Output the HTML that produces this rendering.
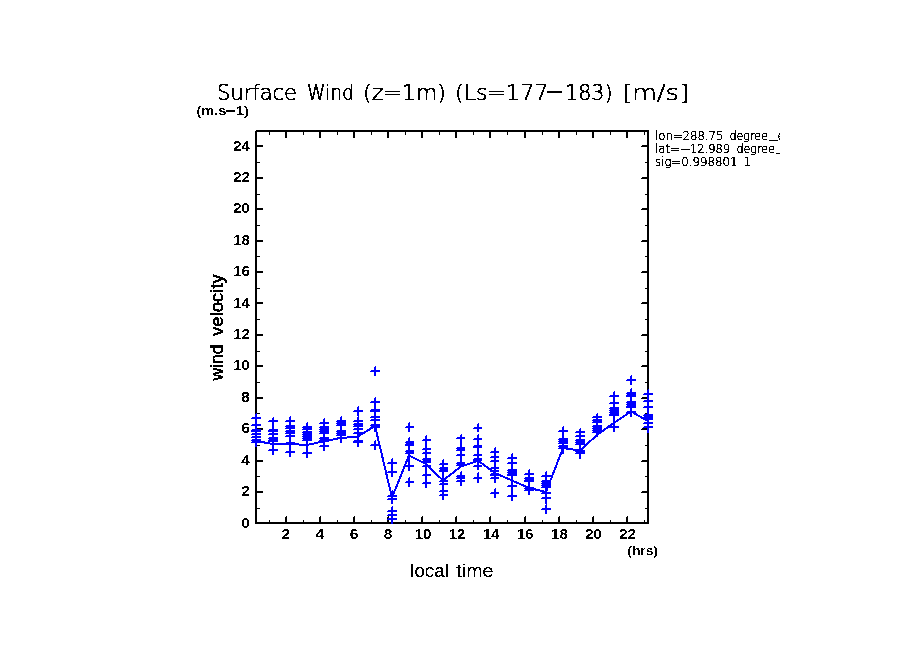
<!DOCTYPE html>
<html><head><meta charset="utf-8"><title>Surface Wind</title>
<style>
html,body{margin:0;padding:0;background:#fff;}
body{width:904px;height:654px;overflow:hidden;}
svg{display:block;}
text{font-family:"Liberation Sans",Arial,sans-serif;fill:#000;}
</style></head><body>
<svg width="904" height="654" viewBox="0 0 904 654">
<defs><clipPath id="clipR"><rect x="650" y="120" width="130" height="60"/></clipPath>
<filter id="bin" filterUnits="userSpaceOnUse" x="0" y="0" width="904" height="654" color-interpolation-filters="sRGB"><feComponentTransfer><feFuncA type="discrete" tableValues="0 1"/></feComponentTransfer></filter></defs>
<rect width="904" height="654" fill="#fff"/>
<rect x="256" y="130" width="393" height="2" fill="#000"/>
<rect x="255" y="522" width="394" height="2" fill="#000"/>
<rect x="255" y="131" width="2" height="393" fill="#000"/>
<rect x="647" y="130" width="2" height="394" fill="#000"/>
<rect x="257" y="508" width="3" height="1" fill="#000"/>
<rect x="645" y="508" width="2" height="1" fill="#000"/>
<rect x="257" y="491" width="6" height="2" fill="#000"/>
<rect x="642" y="491" width="5" height="1" fill="#000"/>
<rect x="641" y="492" width="6" height="1" fill="#000"/>
<rect x="257" y="476" width="3" height="1" fill="#000"/>
<rect x="645" y="476" width="2" height="1" fill="#000"/>
<rect x="257" y="460" width="6" height="2" fill="#000"/>
<rect x="642" y="460" width="5" height="1" fill="#000"/>
<rect x="641" y="461" width="6" height="1" fill="#000"/>
<rect x="257" y="445" width="3" height="1" fill="#000"/>
<rect x="645" y="445" width="2" height="1" fill="#000"/>
<rect x="257" y="428" width="6" height="2" fill="#000"/>
<rect x="642" y="428" width="5" height="1" fill="#000"/>
<rect x="641" y="429" width="6" height="1" fill="#000"/>
<rect x="257" y="413" width="3" height="1" fill="#000"/>
<rect x="645" y="413" width="2" height="1" fill="#000"/>
<rect x="257" y="397" width="6" height="2" fill="#000"/>
<rect x="642" y="397" width="5" height="1" fill="#000"/>
<rect x="641" y="398" width="6" height="1" fill="#000"/>
<rect x="257" y="382" width="3" height="1" fill="#000"/>
<rect x="645" y="382" width="2" height="1" fill="#000"/>
<rect x="257" y="365" width="6" height="2" fill="#000"/>
<rect x="642" y="365" width="5" height="1" fill="#000"/>
<rect x="641" y="366" width="6" height="1" fill="#000"/>
<rect x="257" y="351" width="3" height="1" fill="#000"/>
<rect x="645" y="351" width="2" height="1" fill="#000"/>
<rect x="257" y="334" width="6" height="2" fill="#000"/>
<rect x="642" y="334" width="5" height="1" fill="#000"/>
<rect x="641" y="335" width="6" height="1" fill="#000"/>
<rect x="257" y="319" width="3" height="1" fill="#000"/>
<rect x="645" y="319" width="2" height="1" fill="#000"/>
<rect x="257" y="302" width="6" height="2" fill="#000"/>
<rect x="642" y="302" width="5" height="1" fill="#000"/>
<rect x="641" y="303" width="6" height="1" fill="#000"/>
<rect x="257" y="288" width="3" height="1" fill="#000"/>
<rect x="645" y="288" width="2" height="1" fill="#000"/>
<rect x="257" y="271" width="6" height="2" fill="#000"/>
<rect x="642" y="271" width="5" height="1" fill="#000"/>
<rect x="641" y="272" width="6" height="1" fill="#000"/>
<rect x="257" y="256" width="3" height="1" fill="#000"/>
<rect x="645" y="256" width="2" height="1" fill="#000"/>
<rect x="257" y="240" width="6" height="2" fill="#000"/>
<rect x="642" y="240" width="5" height="1" fill="#000"/>
<rect x="641" y="241" width="6" height="1" fill="#000"/>
<rect x="257" y="225" width="3" height="1" fill="#000"/>
<rect x="645" y="225" width="2" height="1" fill="#000"/>
<rect x="257" y="208" width="6" height="2" fill="#000"/>
<rect x="642" y="208" width="5" height="1" fill="#000"/>
<rect x="641" y="209" width="6" height="1" fill="#000"/>
<rect x="257" y="194" width="3" height="1" fill="#000"/>
<rect x="645" y="194" width="2" height="1" fill="#000"/>
<rect x="257" y="177" width="6" height="2" fill="#000"/>
<rect x="642" y="177" width="5" height="1" fill="#000"/>
<rect x="641" y="178" width="6" height="1" fill="#000"/>
<rect x="257" y="162" width="3" height="1" fill="#000"/>
<rect x="645" y="162" width="2" height="1" fill="#000"/>
<rect x="257" y="145" width="6" height="2" fill="#000"/>
<rect x="642" y="145" width="5" height="1" fill="#000"/>
<rect x="641" y="146" width="6" height="1" fill="#000"/>
<rect x="257" y="131" width="3" height="1" fill="#000"/>
<rect x="645" y="131" width="2" height="1" fill="#000"/>
<rect x="269" y="520" width="1" height="2" fill="#000"/>
<rect x="269" y="132" width="1" height="3" fill="#000"/>
<rect x="286" y="516" width="1" height="1" fill="#000"/>
<rect x="285" y="517" width="2" height="5" fill="#000"/>
<rect x="285" y="132" width="2" height="6" fill="#000"/>
<rect x="303" y="520" width="1" height="2" fill="#000"/>
<rect x="303" y="132" width="1" height="3" fill="#000"/>
<rect x="320" y="516" width="1" height="1" fill="#000"/>
<rect x="319" y="517" width="2" height="5" fill="#000"/>
<rect x="319" y="132" width="2" height="6" fill="#000"/>
<rect x="337" y="520" width="1" height="2" fill="#000"/>
<rect x="337" y="132" width="1" height="3" fill="#000"/>
<rect x="354" y="516" width="1" height="1" fill="#000"/>
<rect x="353" y="517" width="2" height="5" fill="#000"/>
<rect x="353" y="132" width="2" height="6" fill="#000"/>
<rect x="371" y="520" width="1" height="2" fill="#000"/>
<rect x="371" y="132" width="1" height="3" fill="#000"/>
<rect x="388" y="516" width="1" height="1" fill="#000"/>
<rect x="387" y="517" width="2" height="5" fill="#000"/>
<rect x="387" y="132" width="2" height="6" fill="#000"/>
<rect x="405" y="520" width="1" height="2" fill="#000"/>
<rect x="405" y="132" width="1" height="3" fill="#000"/>
<rect x="422" y="516" width="1" height="1" fill="#000"/>
<rect x="421" y="517" width="2" height="5" fill="#000"/>
<rect x="421" y="132" width="2" height="6" fill="#000"/>
<rect x="439" y="520" width="1" height="2" fill="#000"/>
<rect x="439" y="132" width="1" height="3" fill="#000"/>
<rect x="456" y="516" width="1" height="1" fill="#000"/>
<rect x="455" y="517" width="2" height="5" fill="#000"/>
<rect x="455" y="132" width="2" height="6" fill="#000"/>
<rect x="473" y="520" width="1" height="2" fill="#000"/>
<rect x="473" y="132" width="1" height="3" fill="#000"/>
<rect x="490" y="516" width="1" height="1" fill="#000"/>
<rect x="489" y="517" width="2" height="5" fill="#000"/>
<rect x="489" y="132" width="2" height="6" fill="#000"/>
<rect x="507" y="520" width="1" height="2" fill="#000"/>
<rect x="507" y="132" width="1" height="3" fill="#000"/>
<rect x="525" y="516" width="1" height="1" fill="#000"/>
<rect x="524" y="517" width="2" height="5" fill="#000"/>
<rect x="524" y="132" width="2" height="6" fill="#000"/>
<rect x="542" y="520" width="1" height="2" fill="#000"/>
<rect x="542" y="132" width="1" height="3" fill="#000"/>
<rect x="559" y="516" width="1" height="1" fill="#000"/>
<rect x="558" y="517" width="2" height="5" fill="#000"/>
<rect x="558" y="132" width="2" height="6" fill="#000"/>
<rect x="576" y="520" width="1" height="2" fill="#000"/>
<rect x="576" y="132" width="1" height="3" fill="#000"/>
<rect x="593" y="516" width="1" height="1" fill="#000"/>
<rect x="592" y="517" width="2" height="5" fill="#000"/>
<rect x="592" y="132" width="2" height="6" fill="#000"/>
<rect x="610" y="520" width="1" height="2" fill="#000"/>
<rect x="610" y="132" width="1" height="3" fill="#000"/>
<rect x="627" y="516" width="1" height="1" fill="#000"/>
<rect x="626" y="517" width="2" height="5" fill="#000"/>
<rect x="626" y="132" width="2" height="6" fill="#000"/>
<rect x="644" y="520" width="1" height="2" fill="#000"/>
<rect x="644" y="132" width="1" height="3" fill="#000"/>
<path d="M256 413h1v34h-2v-33h1zM252 417h9v2h-10v-1h1zM252 424h9v2h-10v-1h1zM252 429h9v3h-10v-2h1zM252 433h9v2h-10v-1h1zM252 436h9v2h-10v-1h1zM252 439h9v4h-10v-3h1zM273 417h1v38h-2v-37h1zM269 420h9v2h-10v-1h1zM269 429h9v3h-10v-2h1zM269 433h9v2h-10v-1h1zM269 437h9v5h-10v-4h1zM269 449h9v2h-10v-1h1zM290 416h1v41h-2v-40h1zM286 420h9v2h-10v-1h1zM286 425h9v4h-10v-3h1zM286 430h9v4h-10v-3h1zM286 435h9v2h-10v-1h1zM286 442h9v2h-10v-1h1zM286 451h9v2h-10v-1h1zM307 422h1v36h-2v-35h1zM303 426h9v4h-10v-3h1zM303 431h9v10h-10v-9h1zM303 452h9v2h-10v-1h1zM324 418h1v33h-2v-32h1zM320 422h9v2h-10v-1h1zM320 426h9v8h-10v-7h1zM320 437h9v5h-10v-4h1zM320 445h9v2h-10v-1h1zM341 416h1v27h-2v-26h1zM337 420h9v6h-10v-5h1zM337 430h9v6h-10v-5h1zM337 437h9v2h-10v-1h1zM358 406h1v10h-2v-9h1zM358 416h1v31h-2v-30h1zM354 410h9v2h-10v-1h1zM354 420h9v2h-10v-1h1zM354 423h9v4h-10v-3h1zM354 428h9v2h-10v-1h1zM354 432h9v2h-10v-1h1zM354 440h9v3h-10v-2h1zM375 366h1v10h-2v-9h1zM375 397h1v35h-2v-34h1zM375 440h1v10h-2v-9h1zM371 370h9v2h-10v-1h1zM371 401h9v2h-10v-1h1zM371 409h9v3h-10v-2h1zM371 416h9v2h-10v-1h1zM371 419h9v2h-10v-1h1zM371 424h9v4h-10v-3h1zM371 444h9v2h-10v-1h1zM392 458h1v19h-2v-18h1zM392 490h1v14h-2v-13h1zM392 506h1v18h-2v-17h1zM388 462h9v2h-10v-1h1zM388 471h9v2h-10v-1h1zM388 495h9v2h-10v-1h1zM388 498h9v2h-10v-1h1zM388 510h9v2h-10v-1h1zM388 514h9v2h-10v-1h1zM388 518h9v2h-10v-1h1zM409 422h1v10h-2v-9h1zM409 437h1v34h-2v-33h1zM409 477h1v10h-2v-9h1zM406 426h8v2h-9v-1h1zM406 441h8v5h-9v-4h1zM406 450h8v4h-9v-3h1zM406 465h8v2h-9v-1h1zM406 481h8v2h-9v-1h1zM426 435h1v53h-2v-52h1zM423 439h8v2h-9v-1h1zM423 448h8v2h-9v-1h1zM423 452h8v2h-9v-1h1zM423 458h8v5h-9v-4h1zM423 465h8v2h-9v-1h1zM423 474h8v2h-9v-1h1zM423 482h8v2h-9v-1h1zM443 459h1v41h-2v-40h1zM440 463h8v2h-9v-1h1zM440 467h8v5h-9v-4h1zM440 480h8v2h-9v-1h1zM440 483h8v2h-9v-1h1zM440 490h8v2h-9v-1h1zM440 494h8v2h-9v-1h1zM461 434h1v33h-2v-32h1zM461 471h1v15h-2v-14h1zM457 437h8v2h-9v-1h1zM457 447h8v4h-9v-3h1zM457 454h8v2h-9v-1h1zM457 462h8v4h-9v-3h1zM457 475h8v4h-9v-3h1zM457 480h8v2h-9v-1h1zM478 423h1v9h-2v-8h1zM478 434h1v36h-2v-35h1zM478 472h1v11h-2v-10h1zM474 427h8v2h-9v-1h1zM474 438h8v2h-9v-1h1zM474 445h8v3h-9v-2h1zM474 454h8v2h-9v-1h1zM474 458h8v3h-9v-2h1zM474 465h8v2h-9v-1h1zM474 477h8v2h-9v-1h1zM495 447h1v36h-2v-35h1zM495 488h1v10h-2v-9h1zM491 451h8v2h-9v-1h1zM491 456h8v2h-9v-1h1zM491 460h8v2h-9v-1h1zM491 467h8v2h-9v-1h1zM491 470h8v2h-9v-1h1zM491 473h8v3h-9v-2h1zM491 477h8v2h-9v-1h1zM491 492h8v2h-9v-1h1zM512 453h1v48h-2v-47h1zM508 457h9v2h-10v-1h1zM508 462h9v2h-10v-1h1zM508 469h9v7h-10v-6h1zM508 485h9v2h-10v-1h1zM508 495h9v2h-10v-1h1zM529 469h1v26h-2v-25h1zM525 473h9v2h-10v-1h1zM525 477h9v5h-10v-4h1zM525 487h9v4h-10v-3h1zM546 471h1v33h-2v-32h1zM546 504h1v10h-2v-9h1zM542 475h9v2h-10v-1h1zM542 480h9v8h-10v-7h1zM542 492h9v2h-10v-1h1zM542 497h9v2h-10v-1h1zM542 508h9v2h-10v-1h1zM563 426h1v28h-2v-27h1zM559 430h9v2h-10v-1h1zM559 438h9v6h-10v-5h1zM559 445h9v4h-10v-3h1zM580 428h1v31h-2v-30h1zM576 431h9v2h-10v-1h1zM576 435h9v2h-10v-1h1zM576 439h9v6h-10v-5h1zM576 450h9v4h-10v-3h1zM597 413h1v24h-2v-23h1zM593 416h9v2h-10v-1h1zM593 419h9v4h-10v-3h1zM593 425h9v8h-10v-7h1zM614 391h1v41h-2v-40h1zM610 395h9v2h-10v-1h1zM610 402h9v2h-10v-1h1zM610 407h9v9h-10v-8h1zM610 426h9v2h-10v-1h1zM631 375h1v10h-2v-9h1zM631 388h1v29h-2v-28h1zM627 379h9v2h-10v-1h1zM627 392h9v5h-10v-4h1zM627 401h9v7h-10v-6h1zM627 411h9v2h-10v-1h1zM648 389h1v44h-2v-43h1zM644 393h9v2h-10v-1h1zM644 400h9v2h-10v-1h1zM644 406h9v2h-10v-1h1zM644 414h9v6h-10v-5h1zM644 422h9v2h-10v-1h1zM644 426h9v2h-10v-1h1z" fill="#0000ff"/>
<path d="M251 441h1v1h-1zM268 439h1v1h-1zM285 427h1v1h-1zM285 432h1v1h-1zM302 428h1v1h-1zM302 433h1v1h-1zM302 435h1v1h-1zM302 437h1v1h-1zM302 439h1v1h-1zM319 428h1v1h-1zM319 430h1v1h-1zM319 432h1v1h-1zM319 439h1v1h-1zM336 422h1v1h-1zM336 424h1v1h-1zM336 432h1v1h-1zM336 434h1v1h-1zM353 425h1v1h-1zM370 426h1v1h-1zM405 443h1v1h-1zM405 452h1v1h-1zM422 460h1v1h-1zM439 469h1v1h-1zM456 449h1v1h-1zM456 464h1v1h-1zM456 477h1v1h-1zM507 471h1v1h-1zM507 473h1v1h-1zM524 479h1v1h-1zM524 489h1v1h-1zM541 482h1v1h-1zM541 484h1v1h-1zM541 486h1v1h-1zM558 440h1v1h-1zM558 442h1v1h-1zM558 447h1v1h-1zM575 441h1v1h-1zM575 443h1v1h-1zM575 452h1v1h-1zM592 421h1v1h-1zM592 427h1v1h-1zM592 429h1v1h-1zM592 431h1v1h-1zM609 409h1v1h-1zM609 411h1v1h-1zM609 413h1v1h-1zM626 394h1v1h-1zM626 403h1v1h-1zM626 405h1v1h-1zM643 416h1v1h-1zM643 418h1v1h-1z" fill="#fff"/>
<polyline points="256,441 273,444 290,444 307,445 324,441.2 341,438 358,436.5 375,426 392,497.5 409,455.5 426,464 443,480.5 461,466.5 478,460.7 495,473 512,480.5 529,488 546,492 563,448 580,450.5 597,435 614,422.7 631,411.5 648,421" fill="none" stroke="#0000ff" stroke-width="2" shape-rendering="crispEdges"/>
<g filter="url(#bin)">
<text y="99.5" font-size="22" style="font-family:'DejaVu Sans','Liberation Sans',sans-serif;font-weight:200;stroke:#000;stroke-width:0.6px"><tspan x="217" textLength="80" lengthAdjust="spacingAndGlyphs">Surface</tspan> <tspan x="307" textLength="47" lengthAdjust="spacingAndGlyphs">Wind</tspan> <tspan x="363" textLength="83" lengthAdjust="spacingAndGlyphs">(z=1m)</tspan> <tspan x="455" textLength="93.3" lengthAdjust="spacingAndGlyphs">(Ls=177</tspan><tspan x="544.8" textLength="19.3" lengthAdjust="spacingAndGlyphs" y="97.7" style="font-weight:400;stroke-width:0.3px">-</tspan><tspan x="565" textLength="47.5" lengthAdjust="spacingAndGlyphs" y="99.5">183)</tspan> <tspan x="622" textLength="67" lengthAdjust="spacingAndGlyphs" y="99.5">[m/s]</tspan></text>
<text y="115.3" font-size="13.5" font-weight="bold"><tspan x="196.4" textLength="30" lengthAdjust="spacingAndGlyphs">(m.s</tspan><tspan x="224.4" textLength="12.2" lengthAdjust="spacingAndGlyphs">-</tspan><tspan x="236" textLength="13" lengthAdjust="spacingAndGlyphs">1)</tspan></text>
<text x="249.9" y="527.5" font-size="14" font-weight="bold" text-anchor="end" textLength="8.6" lengthAdjust="spacingAndGlyphs">0</text>
<text x="249.9" y="496.08" font-size="14" font-weight="bold" text-anchor="end" textLength="8.6" lengthAdjust="spacingAndGlyphs">2</text>
<text x="249.9" y="464.67" font-size="14" font-weight="bold" text-anchor="end" textLength="8.6" lengthAdjust="spacingAndGlyphs">4</text>
<text x="249.9" y="433.25" font-size="14" font-weight="bold" text-anchor="end" textLength="8.6" lengthAdjust="spacingAndGlyphs">6</text>
<text x="249.9" y="401.84" font-size="14" font-weight="bold" text-anchor="end" textLength="8.6" lengthAdjust="spacingAndGlyphs">8</text>
<text x="249.9" y="370.42" font-size="14" font-weight="bold" text-anchor="end" textLength="16.6" lengthAdjust="spacingAndGlyphs">10</text>
<text x="249.9" y="339.0" font-size="14" font-weight="bold" text-anchor="end" textLength="16.6" lengthAdjust="spacingAndGlyphs">12</text>
<text x="249.9" y="307.59" font-size="14" font-weight="bold" text-anchor="end" textLength="16.6" lengthAdjust="spacingAndGlyphs">14</text>
<text x="249.9" y="276.17" font-size="14" font-weight="bold" text-anchor="end" textLength="16.6" lengthAdjust="spacingAndGlyphs">16</text>
<text x="249.9" y="244.76" font-size="14" font-weight="bold" text-anchor="end" textLength="16.6" lengthAdjust="spacingAndGlyphs">18</text>
<text x="249.9" y="213.34" font-size="14" font-weight="bold" text-anchor="end" textLength="16.6" lengthAdjust="spacingAndGlyphs">20</text>
<text x="249.9" y="181.92" font-size="14" font-weight="bold" text-anchor="end" textLength="16.6" lengthAdjust="spacingAndGlyphs">22</text>
<text x="249.9" y="150.51" font-size="14" font-weight="bold" text-anchor="end" textLength="16.6" lengthAdjust="spacingAndGlyphs">24</text>
<text x="285.8" y="539.2" font-size="14" font-weight="bold" text-anchor="middle" textLength="8.6" lengthAdjust="spacingAndGlyphs">2</text>
<text x="319.9" y="539.2" font-size="14" font-weight="bold" text-anchor="middle" textLength="8.6" lengthAdjust="spacingAndGlyphs">4</text>
<text x="354.0" y="539.2" font-size="14" font-weight="bold" text-anchor="middle" textLength="8.6" lengthAdjust="spacingAndGlyphs">6</text>
<text x="388.1" y="539.2" font-size="14" font-weight="bold" text-anchor="middle" textLength="8.6" lengthAdjust="spacingAndGlyphs">8</text>
<text x="423.0" y="539.2" font-size="14" font-weight="bold" text-anchor="middle" textLength="16.6" lengthAdjust="spacingAndGlyphs">10</text>
<text x="457.1" y="539.2" font-size="14" font-weight="bold" text-anchor="middle" textLength="16.6" lengthAdjust="spacingAndGlyphs">12</text>
<text x="491.2" y="539.2" font-size="14" font-weight="bold" text-anchor="middle" textLength="16.6" lengthAdjust="spacingAndGlyphs">14</text>
<text x="525.3" y="539.2" font-size="14" font-weight="bold" text-anchor="middle" textLength="16.6" lengthAdjust="spacingAndGlyphs">16</text>
<text x="559.4" y="539.2" font-size="14" font-weight="bold" text-anchor="middle" textLength="16.6" lengthAdjust="spacingAndGlyphs">18</text>
<text x="593.5" y="539.2" font-size="14" font-weight="bold" text-anchor="middle" textLength="16.6" lengthAdjust="spacingAndGlyphs">20</text>
<text x="627.6" y="539.2" font-size="14" font-weight="bold" text-anchor="middle" textLength="16.6" lengthAdjust="spacingAndGlyphs">22</text>
<text x="627.3" y="554.5" font-size="13.5" font-weight="bold" text-anchor="start" textLength="30.6" lengthAdjust="spacingAndGlyphs">(hrs)</text>
<text y="577" font-size="17.5" style="stroke:#000;stroke-width:0.12px"><tspan x="410.3" textLength="38.5" lengthAdjust="spacingAndGlyphs">local</tspan> <tspan x="456.3" textLength="37.3" lengthAdjust="spacingAndGlyphs">time</tspan></text>
<text transform="translate(223,380.6) rotate(-90)" y="0" font-size="17.5" style="stroke:#000;stroke-width:0.4px"><tspan x="0" textLength="36" lengthAdjust="spacingAndGlyphs">wind</tspan> <tspan x="44.7" textLength="61.8" lengthAdjust="spacingAndGlyphs">velocity</tspan></text>
<g clip-path="url(#clipR)">
<text y="139.5" font-size="12.5" style="font-family:'DejaVu Sans','Liberation Sans',sans-serif;font-weight:200;stroke:#000;stroke-width:0.4px"><tspan x="655" textLength="68.5" lengthAdjust="spacingAndGlyphs">lon=288.75</tspan> <tspan x="729.5" textLength="38.5" lengthAdjust="spacingAndGlyphs">degree</tspan><tspan x="769" textLength="8.5" lengthAdjust="spacingAndGlyphs" y="137.5">_</tspan><tspan x="777.6" textLength="26" lengthAdjust="spacingAndGlyphs" y="139.5">east</tspan></text>
<text y="152.7" font-size="12.5" style="font-family:'DejaVu Sans','Liberation Sans',sans-serif;font-weight:200;stroke:#000;stroke-width:0.4px"><tspan x="655" textLength="25" lengthAdjust="spacingAndGlyphs">lat=</tspan><tspan x="679.4" textLength="11.3" lengthAdjust="spacingAndGlyphs">-</tspan><tspan x="690" textLength="40" lengthAdjust="spacingAndGlyphs">12.989</tspan> <tspan x="736.5" textLength="38.5" lengthAdjust="spacingAndGlyphs">degree</tspan><tspan x="776" textLength="8.5" lengthAdjust="spacingAndGlyphs" y="150.9">_</tspan><tspan x="784.6" textLength="30" lengthAdjust="spacingAndGlyphs" y="152.7">north</tspan></text>
<text y="166.3" font-size="12.5" style="font-family:'DejaVu Sans','Liberation Sans',sans-serif;font-weight:200;stroke:#000;stroke-width:0.4px"><tspan x="655" textLength="82.5" lengthAdjust="spacingAndGlyphs">sig=0.998801</tspan> <tspan x="743.5" textLength="7.2" lengthAdjust="spacingAndGlyphs">1</tspan></text>
</g>
</g>
</svg>
</body></html>
